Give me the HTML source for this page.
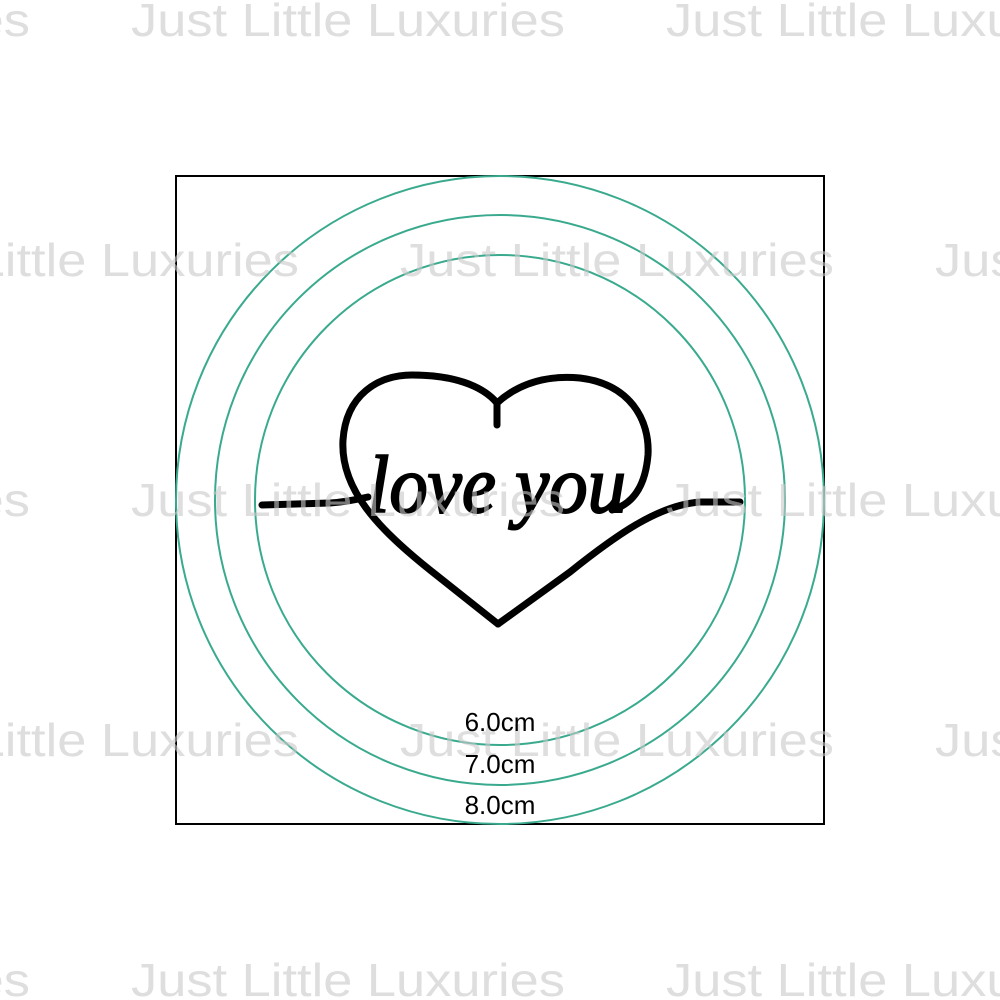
<!DOCTYPE html>
<html><head><meta charset="utf-8"><style>
html,body{margin:0;padding:0;background:#fff;}
svg{display:block;}
</style></head><body>
<svg width="1000" height="1000" viewBox="0 0 1000 1000" xmlns="http://www.w3.org/2000/svg">
<rect x="0" y="0" width="1000" height="1000" fill="#fff"/>
<rect x="176" y="176" width="648" height="648" fill="none" stroke="#000" stroke-width="2"/>
<g fill="none" stroke="#3aaa8e" stroke-width="2">
<circle cx="500" cy="500" r="324"/>
<circle cx="500" cy="500" r="285"/>
<circle cx="500" cy="500" r="245"/>
</g>
<g fill="none" stroke="#000" stroke-width="7" stroke-linecap="round" stroke-linejoin="round">
<path d="M498,624 L430,570 C380,530 340,490 343,440 C346,395 378,375 412,375 C452,375 482,385 497,403"/>
<path d="M497,403 L497,425"/>
<path d="M497,403 C520,382 550,375 580,378 C630,384 650,420 648,455 C645,490 630,505 612,510"/>
<path d="M498,624 L570,572 C620,532 660,505 700,502 L740,502"/>
<path d="M262,505 L330,503 C345,502 355,500 368,497"/>
</g>
<text x="368" y="512" font-family="Liberation Serif, serif" font-style="italic" font-size="82" fill="#000" stroke="#000" stroke-width="2" textLength="258" lengthAdjust="spacingAndGlyphs">love you</text>
<g font-family="Liberation Sans, sans-serif" font-size="46" fill="#c8c8c8" fill-opacity="0.6">
<text x="131" y="36" textLength="434" lengthAdjust="spacingAndGlyphs">Just Little Luxuries</text>
<text x="-404" y="36" textLength="434" lengthAdjust="spacingAndGlyphs">Just Little Luxuries</text>
<text x="666" y="36" textLength="434" lengthAdjust="spacingAndGlyphs">Just Little Luxuries</text>
<text x="-135" y="276" textLength="434" lengthAdjust="spacingAndGlyphs">Just Little Luxuries</text>
<text x="400" y="276" textLength="434" lengthAdjust="spacingAndGlyphs">Just Little Luxuries</text>
<text x="935" y="276" textLength="434" lengthAdjust="spacingAndGlyphs">Just Little Luxuries</text>
<text x="131" y="516" textLength="434" lengthAdjust="spacingAndGlyphs">Just Little Luxuries</text>
<text x="-404" y="516" textLength="434" lengthAdjust="spacingAndGlyphs">Just Little Luxuries</text>
<text x="666" y="516" textLength="434" lengthAdjust="spacingAndGlyphs">Just Little Luxuries</text>
<text x="-135" y="756" textLength="434" lengthAdjust="spacingAndGlyphs">Just Little Luxuries</text>
<text x="400" y="756" textLength="434" lengthAdjust="spacingAndGlyphs">Just Little Luxuries</text>
<text x="935" y="756" textLength="434" lengthAdjust="spacingAndGlyphs">Just Little Luxuries</text>
<text x="131" y="996" textLength="434" lengthAdjust="spacingAndGlyphs">Just Little Luxuries</text>
<text x="-404" y="996" textLength="434" lengthAdjust="spacingAndGlyphs">Just Little Luxuries</text>
<text x="666" y="996" textLength="434" lengthAdjust="spacingAndGlyphs">Just Little Luxuries</text>
</g>
<g font-family="Liberation Sans, sans-serif" font-size="26" fill="#000" text-anchor="middle">
<text x="500" y="731">6.0cm</text>
<text x="500" y="773">7.0cm</text>
<text x="500" y="814">8.0cm</text>
</g>
</svg>
</body></html>
